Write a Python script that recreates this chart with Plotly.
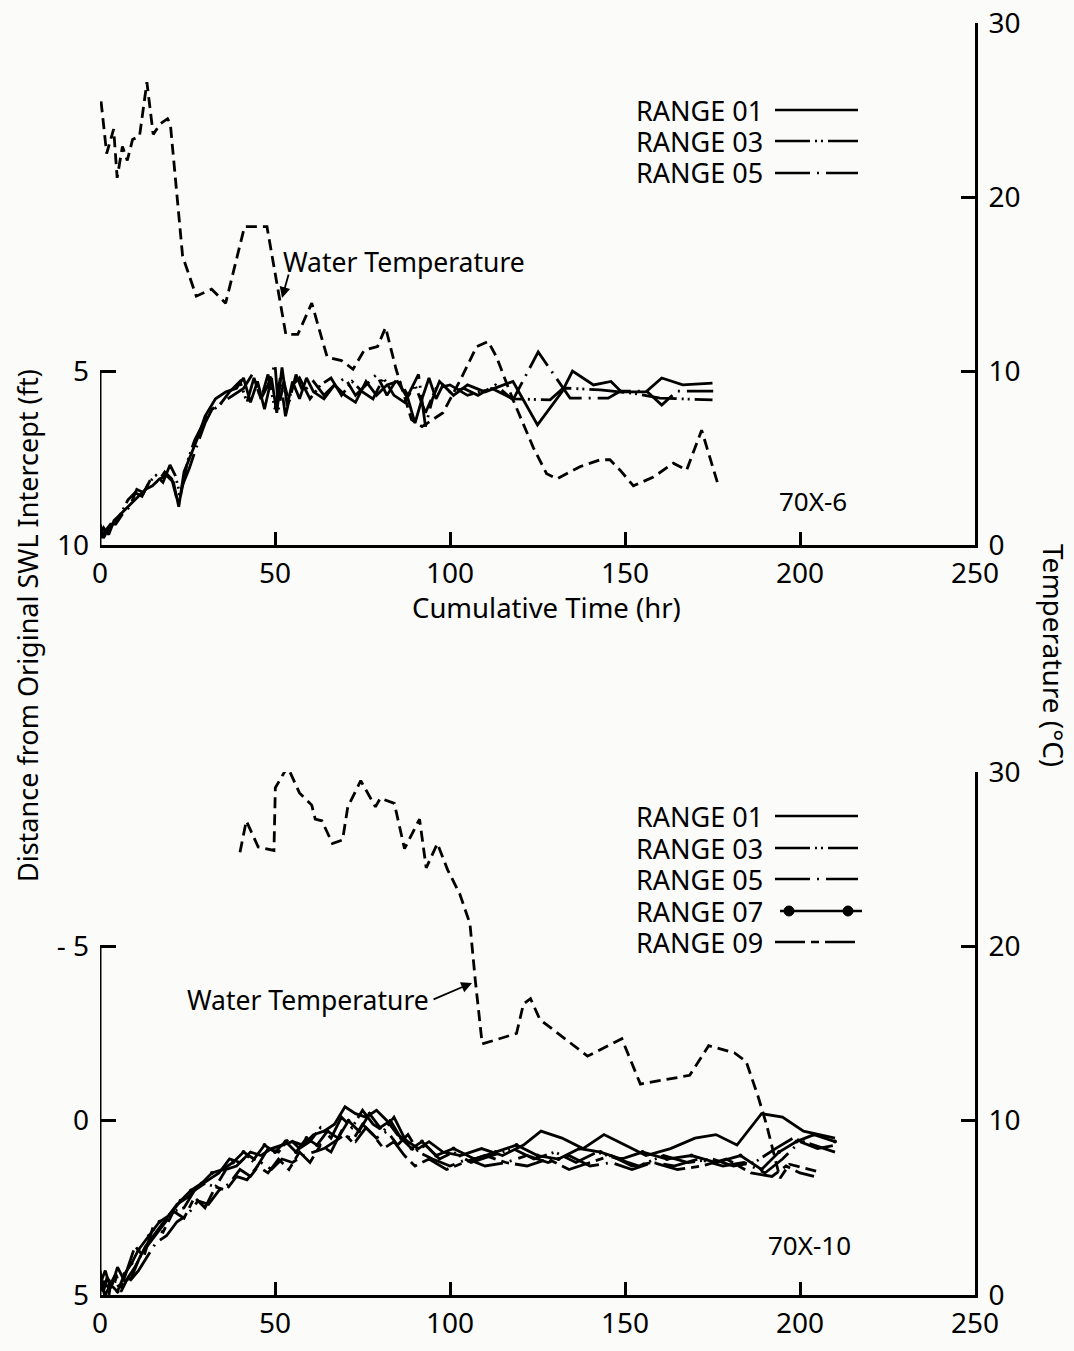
import plotly.graph_objects as go

W, H = 1074, 1351

# ---------------- top panel (70X-6) ----------------
top_x_r01 = [0, 1, 2, 3, 5, 7, 9, 11, 13, 15, 17, 19, 21, 22.5, 24, 26, 28, 30, 33, 36,
             39, 41, 43, 45, 47, 49, 50.5, 52, 53.5, 55, 57, 59, 61, 64, 67, 70, 73, 76, 79, 82,
             85, 88, 90, 92, 94, 96, 98, 101, 105, 110, 118, 125, 132, 135, 141, 146, 149, 156,
             160.5, 166.5, 175]
top_r01 = [9.4, 9.8, 9.6, 9.5, 9.2, 9.0, 8.8, 8.6, 8.4, 8.3, 8.1, 8.0, 8.2, 8.9, 7.9, 7.4, 6.9, 6.3, 5.8, 5.6,
           5.5, 5.2, 5.9, 5.3, 6.1, 5.2, 6.2, 4.9, 6.0, 5.3, 5.8, 5.2, 5.6, 5.8, 5.4, 5.7, 5.9, 5.3, 5.7, 5.4,
           5.3, 5.8, 6.5, 5.8, 5.2, 5.8, 5.4, 5.7, 5.4, 5.6, 5.3, 6.55, 5.6, 5.0, 5.4, 5.3, 5.6, 5.6,
           5.2, 5.4, 5.35]

top_x_r03 = [0, 1, 2.5, 4, 6, 8, 10, 12, 14, 16, 18, 20, 21.5, 23, 25, 27, 29, 31, 34, 37,
             40, 42, 44, 46, 48, 50, 51.5, 53, 55, 57, 60, 63, 66, 69, 72, 75, 78, 81, 84, 87,
             90, 93, 96, 100, 105, 112, 118, 128.6, 132.4, 142.9, 152.4, 160, 175]
top_r03 = [9.7, 9.5, 9.7, 9.3, 9.1, 8.7, 8.5, 8.6, 8.2, 8.0, 8.2, 7.7, 8.0, 8.6, 7.6, 7.0, 6.6, 6.2, 6.0, 5.6,
           5.3, 5.9, 5.2, 5.8, 5.1, 6.1, 5.2, 6.3, 5.4, 5.2, 5.8, 5.4, 5.2, 5.7, 5.3, 5.6, 5.8, 5.2, 5.7, 5.9,
           5.4, 6.2, 5.5, 5.4, 5.7, 5.5, 5.8, 5.83, 5.49, 5.54, 5.64, 5.78, 5.83]

top_x_r05 = [0, 1.5, 3, 4.5, 6.5, 8.5, 10.5, 12.5, 14.5, 16.5, 18.5, 20.5, 22, 23.5, 25.5, 27.5, 30, 32, 35, 38,
             41, 43.5, 46, 48, 50, 51, 52.5, 54, 56, 58, 61, 64, 67, 70, 73, 76, 79, 82, 85, 88,
             91, 93, 95, 97, 100, 104, 108, 113, 118, 125.2, 134.3, 145.2, 148.6, 156.2, 160.5, 164.8, 175.2]
top_r05 = [9.8, 9.6, 9.4, 9.4, 9.1, 8.9, 8.4, 8.5, 8.1, 8.2, 7.9, 8.1, 8.7, 8.3, 7.8, 7.2, 6.5, 6.1, 5.9, 5.7,
           5.5, 5.1, 5.8, 5.4, 4.8, 6.1, 5.3, 5.9, 5.1, 5.6, 5.3, 5.7, 5.4, 5.2, 5.7, 5.4, 5.1, 5.7, 5.2, 5.7,
           5.1, 6.6, 5.8, 5.3, 5.6, 5.5, 5.7, 5.4, 5.83, 4.45, 5.78, 5.78, 5.58, 5.58, 5.98, 5.58, 5.58]

top_x_temp = [0.3, 1.9, 3.9, 4.9, 6.4, 7.8, 9.3, 11.3, 13.4, 15.2, 17.2, 19.3, 20.1, 23.6, 27.5, 31.9, 35.9,
              41.3, 47.7, 51.6, 53.1, 56.5, 60.5, 64.9, 69.0, 72.3, 75.5, 79.3, 81.6, 84.6, 89, 92, 98, 103,
              107.6, 110.9, 113.3, 118.1, 123.8, 127.6, 130.5, 137.1, 142.9, 145.7, 148.6, 152.4, 158.1,
              163.8, 167.6, 171.9, 176.7]
top_temp = [25.5, 22.5, 23.9, 21.1, 22.9, 22.1, 23.3, 23.5, 26.6, 23.6, 24.2, 24.5, 24.2, 16.6, 14.3, 14.7, 13.9,
            18.3, 18.3, 13.8, 12.1, 12.1, 13.9, 10.8, 10.6, 10.1, 11.2, 11.4, 12.5, 10.1, 7.2, 6.8, 7.6, 9.5,
            11.4, 11.7, 10.8, 8.3, 5.6, 4.1, 3.8, 4.5, 4.9, 4.9, 4.3, 3.4, 3.9,
            4.7, 4.3, 6.6, 3.4]

# ---------------- bottom panel (70X-10) ----------------
bot_x_r01 = [0, 1, 2, 3.5, 5, 7, 9, 11, 13, 16, 19, 22, 25, 28, 31, 34, 37, 40, 43, 46,
             49, 52, 55, 58, 61, 64, 67, 70, 73, 76, 79, 82, 85, 88, 91, 94, 98, 103, 109, 115,
             121, 126, 132, 138, 144, 150, 156, 163, 170, 176, 182, 189, 195, 201, 210]
bot_r01 = [4.4, 4.9, 4.5, 4.7, 4.2, 4.6, 4.5, 4.0, 3.6, 3.2, 2.8, 2.4, 2.2, 1.9, 1.7, 1.5, 1.1, 1.2, 0.9, 1.0,
           0.8, 0.7, 0.6, 0.7, 0.4, 0.3, 0.1, -0.4, -0.2, -0.1, -0.3, 0.0, 0.4, 0.6, 0.8, 0.6, 0.9, 1.0, 0.8, 1.0,
           0.7, 0.3, 0.5, 0.8, 0.4, 0.7, 1.0, 0.8, 0.5, 0.4, 0.7, -0.2, -0.1, 0.3, 0.5]

bot_x_r03 = [0, 1.5, 3, 4.5, 6, 8, 10, 12, 15, 18, 21, 24, 27, 30, 33, 36, 39, 42, 45, 48,
             51, 54, 57, 60, 63, 66, 69, 72, 75, 78, 81, 84, 87, 90, 93, 97, 101, 106, 112, 118,
             124, 130, 136, 142, 148, 154, 161, 168, 175, 181, 187, 193, 198, 204, 210]
bot_r03 = [4.7, 4.3, 4.8, 4.6, 4.9, 4.5, 4.2, 3.8, 3.4, 3.0, 2.6, 2.5, 2.0, 1.8, 1.9, 1.4, 1.3, 1.0, 1.3, 0.8,
           0.9, 0.5, 0.8, 0.6, 0.2, 0.5, -0.1, 0.2, -0.3, 0.1, 0.3, -0.1, 0.5, 0.9, 0.7, 1.1, 0.9, 1.2, 1.0, 0.8,
           1.1, 0.9, 1.2, 0.9, 1.1, 1.3, 1.0, 1.2, 1.1, 1.3, 1.2, 0.8, 0.5, 0.7, 0.9]

bot_x_r05 = [0, 1, 2.5, 4, 6, 8.5, 11, 13.5, 16, 19, 22, 25, 28, 31, 34, 37, 40, 43, 46, 49,
             52, 55, 58, 61, 64, 67, 70, 73, 76, 79, 82, 85, 88, 91, 95, 100, 105, 110, 116, 122,
             128, 134, 140, 146, 152, 158, 164, 171, 178, 184, 190, 195, 200, 205, 210]
bot_r05 = [4.9, 4.6, 4.8, 4.5, 4.7, 4.6, 4.3, 3.9, 3.5, 3.3, 2.9, 2.7, 2.3, 2.4, 2.0, 1.8, 1.4, 1.6, 1.2, 1.4,
           1.1, 1.2, 1.0, 0.9, 0.8, 0.6, 0.4, 0.6, 0.2, 0.5, 0.3, 0.7, 0.4, 0.9, 1.1, 1.3, 1.1, 1.3, 1.2, 1.0,
           1.2, 1.0, 1.3, 1.2, 1.4, 1.2, 1.3, 1.1, 1.3, 1.2, 1.5, 1.1, 0.6, 0.8, 0.7]

bot_x_r07 = [0, 1.5, 3, 5, 7, 9, 11, 14, 17, 20, 23, 26, 29, 32, 35, 38, 41, 44, 47, 50,
             53, 56, 59, 62, 65, 68, 71, 74, 77, 80, 83, 86, 89, 92, 96, 101, 107, 113, 119, 125,
             131, 137, 143, 149, 155, 162, 169, 176, 183, 189, 194, 199, 204, 210]
bot_r07 = [4.6, 5.0, 4.7, 4.9, 4.4, 4.1, 3.7, 3.3, 2.9, 2.7, 2.3, 2.0, 1.8, 1.5, 1.4, 1.2, 0.9, 1.1, 0.7, 0.9,
           0.6, 0.9, 0.5, 0.7, 0.3, 0.5, 0.0, 0.3, -0.2, 0.2, 0.0, 0.5, 0.8, 0.6, 1.0, 0.8, 1.1, 0.9, 0.7, 1.0,
           1.1, 0.8, 0.9, 1.1, 0.9, 1.1, 1.0, 1.2, 1.0, 1.4, 0.9, 0.6, 0.4, 0.6]

bot_x_r09 = [0, 1, 2, 3, 4.5, 6, 8, 10, 12.5, 15, 18, 21, 24, 27, 30, 33, 36, 39, 42, 45,
             48, 51, 54, 57, 60, 63, 66, 69, 72, 75, 78, 81, 84, 87, 90, 94, 99, 104, 110, 116,
             122, 128, 134, 140, 146, 152, 158, 165, 172, 179, 186, 192, 196, 200, 204]
bot_r09 = [4.3, 4.8, 5.4, 4.7, 4.4, 4.8, 4.2, 3.6, 3.9, 3.1, 3.2, 2.6, 2.8, 2.2, 2.5, 1.9, 2.0, 1.6, 1.7, 1.3,
           1.5, 1.1, 1.4, 0.9, 1.2, 0.7, 0.9, 0.3, 0.6, 0.1, 0.4, 0.8, 0.6, 1.0, 1.3, 1.1, 1.4, 1.2, 1.0, 1.2,
           1.3, 1.1, 1.4, 1.2, 1.0, 1.3, 1.2, 1.4, 1.3, 1.1, 1.5, 1.6, 1.3, 1.5, 1.6]

bot_x_temp = [40, 41.8, 45.2, 49.7, 50.1, 53.6, 57.0, 60.5, 61.5, 63.4, 66.4, 69.3, 70.8, 74.5, 78.7, 80.1,
              84.1, 87, 91.3, 93.2, 96.4, 99.3, 102.8, 105.7, 107.2, 109.2, 119, 121, 123, 125.7, 139.3,
              149.1, 154.4, 168.5, 173.9, 181.2, 184.6, 188, 190.4, 194.3, 197, 204.8]
bot_temp = [25.4, 27.2, 25.7, 25.5, 29.1, 30.3, 28.8, 28.1, 27.3, 27.2, 25.9, 26.1, 28.0, 29.5, 28.0, 28.5,
            28.2, 25.6, 27.3, 24.5, 25.9, 24.4, 23.0, 21.3, 18.1, 14.4, 15.0, 16.7, 17.0, 15.8, 13.7,
            14.7, 12.1, 12.6, 14.3, 13.9, 13.4, 11.4, 9.8, 6.7, 7.5, 7.1]

x_ticks = [0, 50, 100, 150, 200, 250]
temp_ticks = [0, 10, 20, 30]
top_dist_ticks = [5, 10]
bot_dist_ticks = [-5, 0, 5]
bot_dist_labels = ["- 5", "0", "5"]

# line styles
DASH = {
    "01": "solid",
    "03": "35px,5px,2px,4px,2px,5px",
    "05": "35px,7px,2px,7px",
    "07": "solid",
    "09": "30px,6px,8px,6px",
}
TEMP_DASH = "11px,6px"
FONT = "Noto Sans"
INK = "black"
LW = 2.8


def px(x):
    return x / W


def py(y):
    return 1 - y / H


fig = go.Figure()

# top panel range lines
for xs, ys, key in [(top_x_r01, top_r01, "01"), (top_x_r03, top_r03, "03"), (top_x_r05, top_r05, "05")]:
    fig.add_trace(go.Scatter(x=xs, y=ys, mode="lines", xaxis="x", yaxis="y",
                             line=dict(color=INK, width=LW, dash=DASH[key]), showlegend=False))
fig.add_trace(go.Scatter(x=top_x_temp, y=top_temp, mode="lines", xaxis="x", yaxis="y2",
                         line=dict(color=INK, width=LW, dash=TEMP_DASH), showlegend=False))

# bottom panel range lines
for xs, ys, key in [(bot_x_r01, bot_r01, "01"), (bot_x_r03, bot_r03, "03"), (bot_x_r05, bot_r05, "05"),
                    (bot_x_r09, bot_r09, "09")]:
    fig.add_trace(go.Scatter(x=xs, y=ys, mode="lines", xaxis="x2", yaxis="y3",
                             line=dict(color=INK, width=LW, dash=DASH[key]), showlegend=False))
fig.add_trace(go.Scatter(x=bot_x_r07, y=bot_r07, mode="lines+markers", xaxis="x2", yaxis="y3",
                         line=dict(color=INK, width=LW), marker=dict(color=INK, size=4),
                         showlegend=False))
fig.add_trace(go.Scatter(x=bot_x_temp, y=bot_temp, mode="lines", xaxis="x2", yaxis="y4",
                         line=dict(color=INK, width=LW, dash=TEMP_DASH), showlegend=False))

xdom = [px(100), px(975)]
top_dom = [py(545), py(23)]
bot_dom = [py(1295), py(772)]

tickfont = dict(family=FONT, size=28, color=INK)
xax = dict(range=[0, 250], tickvals=x_ticks, ticks="inside", ticklen=13, tickwidth=2.5, tickcolor=INK,
           showline=True, linewidth=3, linecolor=INK, showgrid=False, zeroline=False, automargin=False,
           tickfont=tickfont, ticklabelstandoff=1, domain=xdom, fixedrange=True)
rax = dict(range=[0, 30], tickvals=temp_ticks, ticks="inside", ticklen=14, tickwidth=2.5, tickcolor=INK,
           showline=True, linewidth=3, linecolor=INK, showgrid=False, zeroline=False, side="right",
           automargin=False, tickfont=tickfont, ticklabelstandoff=5)
lax = dict(ticks="inside", ticklen=16, tickwidth=2.5, tickcolor=INK, showline=False, showgrid=False,
           zeroline=False, automargin=False, tickfont=tickfont, ticklabelstandoff=10)

fig.update_layout(
    width=W, height=H, autosize=False,
    margin=dict(l=0, r=0, t=0, b=0),
    paper_bgcolor="#fbfbf9", plot_bgcolor="rgba(0,0,0,0)",
    font=dict(family=FONT, color=INK),
    showlegend=False,
    xaxis=dict(xax, anchor="y"),
    xaxis2=dict(xax, anchor="y3"),
    yaxis=dict(lax, range=[10, -5], tickvals=top_dist_ticks, domain=top_dom, anchor="x"),
    yaxis2=dict(rax, domain=top_dom, overlaying="y", anchor="x"),
    yaxis3=dict(lax, range=[5, -10], tickvals=bot_dist_ticks, ticktext=bot_dist_labels,
                domain=bot_dom, anchor="x2"),
    yaxis4=dict(rax, domain=bot_dom, overlaying="y3", anchor="x2"),
)

shapes = [
    # partial left axis lines
    dict(type="line", xref="x", yref="y", x0=0, x1=0, y0=5, y1=10, line=dict(color=INK, width=3)),
    dict(type="line", xref="x2", yref="y3", x0=0, x1=0, y0=-5, y1=5, line=dict(color=INK, width=3)),
]
annotations = []


def text(x, y, s, size=26, xanchor="center", angle=0):
    annotations.append(dict(x=px(x), y=py(y), xref="paper", yref="paper", text=s, showarrow=False,
                            xanchor=xanchor, yanchor="middle", textangle=angle,
                            font=dict(family=FONT, size=size, color=INK)))


def legend_row(y, label, key, x_text=634, x0=775, x1=858):
    text(x_text, y, "RANGE " + label, size=27, xanchor="left")
    shapes.append(dict(type="line", xref="paper", yref="paper", x0=px(x0), x1=px(x1), y0=py(y), y1=py(y),
                       line=dict(color=INK, width=2.5, dash=DASH[key])))


for yy, lab in [(110, "01"), (141, "03"), (173, "05")]:
    legend_row(yy, lab, lab)
for yy, lab in [(816, "01"), (848, "03"), (879, "05"), (911, "07"), (942, "09")]:
    if lab == "07":
        legend_row(yy, lab, lab, x0=780, x1=862)
        for cx in (789, 848):
            shapes.append(dict(type="circle", xref="paper", yref="paper", x0=px(cx - 5), x1=px(cx + 5),
                               y0=py(yy - 5), y1=py(yy + 5), fillcolor=INK, line=dict(color=INK, width=1)))
    else:
        legend_row(yy, lab, lab)

text(546, 607, "Cumulative Time (hr)", size=27.5)
text(27, 626, "Distance from Original SWL Intercept (ft)", size=27, angle=-90)
text(1054, 655, "Temperature (°C)", size=28, angle=90)
text(813, 501, "70X-6")
text(809, 1245, "70X-10")
text(281, 262, "Water Temperature", size=26.5, xanchor="left")
text(431, 1000, "Water Temperature", size=26.5, xanchor="right")

# arrows to the temperature curves
annotations.append(dict(x=52, y=14.2, xref="x", yref="y2", ax=7, ay=-25, text="", showarrow=True,
                        arrowhead=2, arrowsize=1.2, arrowwidth=1.8, arrowcolor=INK))
annotations.append(dict(x=106.3, y=17.9, xref="x2", yref="y4", ax=-40, ay=17, text="", showarrow=True,
                        arrowhead=2, arrowsize=1.2, arrowwidth=1.8, arrowcolor=INK))

fig.update_layout(shapes=shapes, annotations=annotations)

# drop the browser's default page margin so the figure sits at the window origin
fig.write_html("out.html", config={"displayModeBar": False},
               post_script="document.body.style.margin='0';")
